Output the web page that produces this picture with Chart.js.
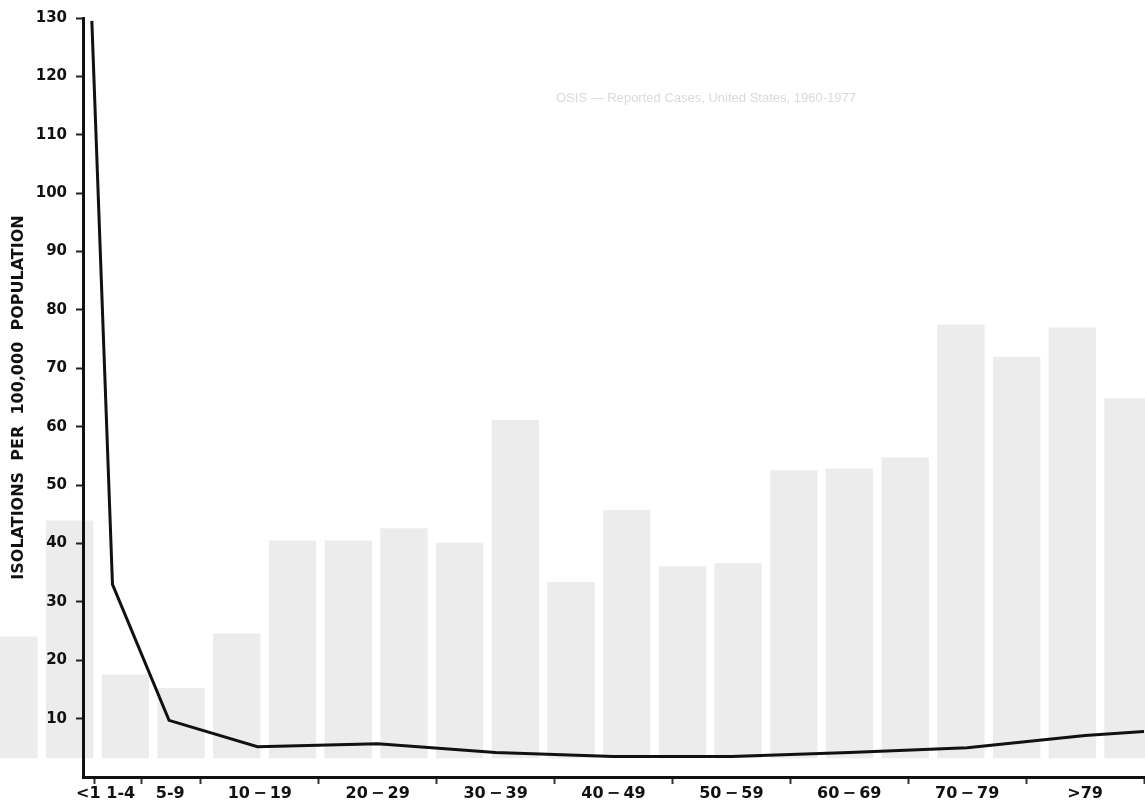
<!DOCTYPE html>
<html>
<head>
<meta charset="utf-8">
<script src="https://cdn.jsdelivr.net/npm/chart.js@4.4.1/dist/chart.umd.min.js"></script>
<style>
  html, body { margin: 0; padding: 0; background: #fff; }
  #wrap { position: relative; width: 1145px; height: 809px; overflow: hidden; }
  #wrap canvas { position: absolute; left: 0; top: 0; }
  #ghost { position: absolute; left: 556px; top: 90px; font: 13px "Liberation Sans", Arial, sans-serif; color: #dadada; white-space: nowrap; }
</style>
</head>
<body>
<div id="wrap">
  <canvas id="bgChart" width="1145" height="809"></canvas>
  <div id="ghost">OSIS — Reported Cases, United States, 1960-1977</div>
  <canvas id="chart1" width="1145" height="809"></canvas>
</div>
<script>
// age groups (x axis labels) and where they sit on the age scale
var ageLabels = ["<1", "1-4", "5-9", "10\u2009\u2212\u200919", "20\u2009\u2212\u200929", "30\u2009\u2212\u200939",
  "40\u2009\u2212\u200949", "50\u2009\u2212\u200959", "60\u2009\u2212\u200969", "70\u2009\u2212\u200979", ">79"];
var labelAges = [0.45, 3.2, 7.4, 15, 25, 35, 45, 55, 65, 75, 85];
var boundaryAges = [1, 5, 10, 20, 30, 40, 50, 60, 70, 80, 90];
var yTicks = [10, 20, 30, 40, 50, 60, 70, 80, 90, 100, 110, 120, 130];

// the plotted line (isolations per 100,000)
var pointAges = [0.75, 2.5, 7.3, 14.8, 25, 35, 45, 55, 65, 75, 85, 90];
var pointValues = [129.5, 33, 9.7, 5.2, 5.7, 4.2, 3.5, 3.5, 4.2, 5.0, 7.1, 7.8];

// faint bars showing through from the other side of the page
var bgBarHeights = [24, 43.8, 17.5, 15.2, 24.5, 40.4, 40.4, 42.5, 40, 61, 33.3, 45.6, 36, 36.5, 52.4, 52.7, 54.6, 77.3, 71.8, 76.8, 64.7];
var bgBarBase = 3.2;

var tickFont = { family: "'DejaVu Sans', sans-serif", weight: 'bold', size: 15 };
var xFont = { family: "'DejaVu Sans', sans-serif", weight: 'bold', size: 16 };

var bgCtx = document.getElementById('bgChart');
var bgChart = new Chart(bgCtx, {
  type: 'bar',
  data: {
    datasets: [{
      data: bgBarHeights.map(function (h, i) { return { x: i, y: [bgBarBase, h] }; }),
      backgroundColor: '#ececec',
      borderWidth: 0,
      barPercentage: 0.85,
      categoryPercentage: 1
    }]
  },
  options: {
    responsive: false,
    animation: false,
    layout: { padding: { top: 16, bottom: 32, left: 0, right: 0 } },
    plugins: { legend: { display: false }, tooltip: { enabled: false } },
    scales: {
      x: { type: 'linear', offset: false, min: -0.251, max: 20.305, display: false },
      y: { min: 0, max: 130, display: false }
    }
  }
});

var allXTicks = boundaryAges.concat(labelAges).sort(function (a, b) { return a - b; });

var ctx = document.getElementById('chart1');
var myChart = new Chart(ctx, {
  type: 'line',
  data: {
    datasets: [{
      data: pointAges.map(function (a, i) { return { x: a, y: pointValues[i] }; }),
      borderColor: '#111',
      borderWidth: 3,
      pointRadius: 0,
      tension: 0,
      fill: false
    }]
  },
  options: {
    responsive: false,
    animation: false,
    layout: { padding: { top: 16, right: 1, left: 0, bottom: 0 } },
    plugins: { legend: { display: false }, tooltip: { enabled: false } },
    scales: {
      x: {
        type: 'linear',
        min: 0,
        max: 90,
        afterBuildTicks: function (axis) {
          axis.ticks = allXTicks.map(function (v) { return { value: v }; });
        },
        afterFit: function (axis) { axis.height = 32; },
        border: { display: true, color: '#111', width: 3 },
        grid: {
          drawOnChartArea: false,
          tickLength: 7,
          tickWidth: 2,
          tickColor: function (c) {
            return c.tick && boundaryAges.indexOf(c.tick.value) >= 0 ? '#333' : 'rgba(0,0,0,0)';
          }
        },
        ticks: {
          autoSkip: false,
          maxRotation: 0,
          padding: 0,
          color: '#111',
          font: xFont,
          callback: function (v) {
            var i = labelAges.indexOf(v);
            return i >= 0 ? ageLabels[i] : '';
          }
        }
      },
      y: {
        min: 0,
        max: 130,
        afterBuildTicks: function (axis) {
          axis.ticks = yTicks.map(function (v) { return { value: v }; });
        },
        afterFit: function (axis) { axis.width = 83; },
        border: { display: true, color: '#111', width: 3 },
        grid: { drawOnChartArea: false, tickLength: 7, tickWidth: 2, tickColor: '#222' },
        ticks: { padding: 9, color: '#111', font: tickFont },
        title: {
          display: true,
          text: 'ISOLATIONS  PER  100,000  POPULATION',
          color: '#111',
          font: { family: "'DejaVu Sans', sans-serif", weight: 'bold', size: 16 },
          padding: { top: 9, bottom: 0 }
        }
      }
    }
  }
});
</script>
</body>
</html>
